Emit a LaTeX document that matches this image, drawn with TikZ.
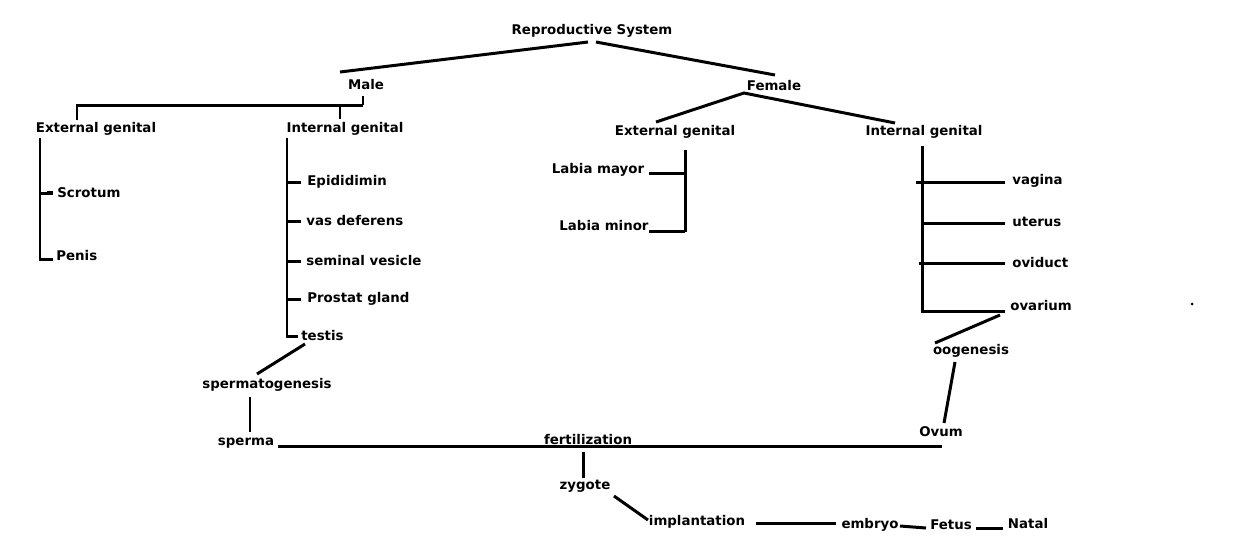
\documentclass[tikz,border=0pt]{standalone}
\usepackage{fontspec}
\setmainfont{DejaVu Sans}
\begin{document}
\begin{tikzpicture}[x=0.02cm,y=-0.02cm,
  t/.style={font=\fontsize{7.6}{9}\selectfont\bfseries,inner sep=0pt},
  l/.style={line width=1.7pt}]
\useasboundingbox (0,0) rectangle (1240,556);
\node[t] (rs) at (592,31) {Reproductive System};
\node[t] (male) at (366,85) {Male};
\node[t] (female) at (774,86) {Female};
\node[t] (meg) at (96,129) {External genital};
\node[t] (mig) at (345,129) {Internal genital};
\node[t,anchor=west] (scr) at (57,193) {Scrotum};
\node[t,anchor=west] (pen) at (56,256) {Penis};
\node[t,anchor=west] (epi) at (307,182) {Epididimin};
\node[t,anchor=west] (vas) at (306,221) {vas deferens};
\node[t,anchor=west] (sem) at (306,261) {seminal vesicle};
\node[t,anchor=west] (pro) at (307,299) {Prostat gland};
\node[t,anchor=west] (tes) at (301,336) {testis};
\node[t] (feg) at (675,132) {External genital};
\node[t] (fig) at (924,132) {Internal genital};
\node[t] (lma) at (598,170) {Labia mayor};
\node[t] (lmi) at (604,226) {Labia minor};
\node[t,anchor=west] (vag) at (1012,181) {vagina};
\node[t,anchor=west] (ute) at (1012,222) {uterus};
\node[t,anchor=west] (ovi) at (1012,263) {oviduct};
\node[t,anchor=west] (ova) at (1010,306) {ovarium};
\node[t] (oog) at (971,351) {oogenesis};
\node[t] (ovum) at (941,432) {Ovum};
\node[t] (spg) at (267,385) {spermatogenesis};
\node[t] (spe) at (246,443) {sperma};
\node[t] (fer) at (588,440) {fertilization};
\node[t] (zyg) at (585,486) {zygote};
\node[t] (imp) at (697,522) {implantation};
\node[t] (emb) at (870,525) {embryo};
\node[t] (fet) at (951,525) {Fetus};
\node[t] (nat) at (1028,524) {Natal};
\fill (1192,304) circle (1.5);
% root
\draw[l] (588,42) -- (340,72);
\draw[l] (596,42) -- (775,75);
% male
\draw[l] (363,96) -- (363,105);
\draw[l] (77,120) -- (77,105) -- (363,105);
\draw[l] (340,105) -- (340,119);
\draw[l] (40,138) -- (40,259) -- (53,259);
\draw[l] (40,193) -- (52,193);
\fill (47,191) rectangle (53,195);
\draw[l] (287,138) -- (287,336) -- (298,336);
\foreach \y in {182,221,261,299} \draw[l] (287,\y) -- (301,\y);
% female
\draw[l] (656,122) -- (744,93) -- (895,123);
\draw[l] (685,150) -- (685,232);
\draw[l] (649,173) -- (685,173);
\draw[l] (649,231) -- (685,231);
\draw[l] (922,146) -- (922,311) -- (1005,311);
\draw[l] (916,182) -- (1005,182);
\draw[l] (922,223) -- (1005,223);
\draw[l] (919,263) -- (1005,263);
% gametes
\draw[l] (1000,315) -- (935,343);
\draw[l] (955,362) -- (944,423);
\draw[l] (305,344) -- (257,374);
\draw[l] (250,397) -- (250,432);
\draw[l] (278,446) -- (942,446);
\draw[l] (583,452) -- (583,478);
\draw[l] (614,496) -- (648,520);
\draw[l] (756,523) -- (836,523);
\draw[l] (900,526) -- (926,528);
\draw[l] (976,528) -- (1003,528);
\end{tikzpicture}
\end{document}
